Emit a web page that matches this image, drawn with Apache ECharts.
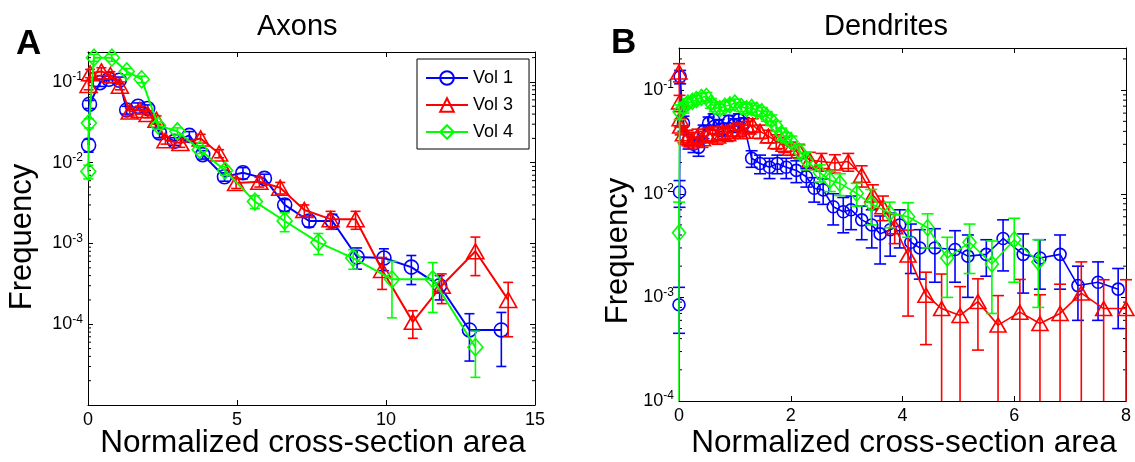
<!DOCTYPE html>
<html><head><meta charset="utf-8">
<script src="https://cdn.jsdelivr.net/npm/echarts@6/dist/echarts.min.js"></script>
<style>html,body{margin:0;padding:0;background:#fff}#c{width:1135px;height:462px}</style>
</head><body><div id="c"></div>
<script>
// ---------- Panel A: Axons ----------
const axVol1X = [0.02, 0.05, 0.4, 0.7, 1.05, 1.3, 1.68, 2.0, 2.4, 2.9, 3.4, 3.85, 4.58, 5.2, 5.92, 6.6, 7.42, 8.2, 9.03, 9.93, 10.85, 11.8, 12.8, 13.87];
const axVol1Y = [0.0165, 0.053, 0.098, 0.108, 0.105, 0.045, 0.050, 0.047, 0.0233, 0.0184, 0.0218, 0.0126, 0.0067, 0.0075, 0.0064, 0.0030, 0.0019, 0.0019, 0.00068, 0.00066, 0.00051, 0.00030, 0.000085, 0.000085];
const axVol1E = [0.003, 0.006, 0.01, 0.01, 0.01, 0.005, 0.005, 0.005, 0.003, 0.002, 0.0025, 0.0015, 0.0008, 0.0012, 0.0008, 0.0005, 0.0003, 0.0004, 0.0002, 0.0002, 0.0002, 0.0001, 0.00005, 0.000055];

const axVol3X = [0.02, 0.07, 0.45, 0.75, 1.07, 1.4, 1.74, 2.0, 2.3, 2.6, 3.1, 3.78, 4.4, 4.97, 5.75, 6.45, 7.26, 8.14, 8.98, 9.87, 10.9, 11.87, 13.0, 14.1];
const axVol3Y = [0.092, 0.128, 0.135, 0.122, 0.090, 0.043, 0.045, 0.040, 0.034, 0.019, 0.0175, 0.0200, 0.0130, 0.0056, 0.0058, 0.0049, 0.0026, 0.0020, 0.0020, 0.00047, 0.000107, 0.00030, 0.00080, 0.00020];
const axVol3E = [0.012, 0.015, 0.015, 0.012, 0.01, 0.005, 0.005, 0.004, 0.004, 0.002, 0.002, 0.0025, 0.0015, 0.0008, 0.0008, 0.0008, 0.0004, 0.0005, 0.0005, 0.0002, 0.00004, 0.00012, 0.0004, 0.00013];

const axVol4X = [0.01, 0.03, 0.2, 0.8, 1.3, 1.8, 2.35, 3.0, 3.75, 4.6, 5.6, 6.6, 7.73, 8.9, 10.2, 11.57, 13.0];
const axVol4Y = [0.0078, 0.031, 0.20, 0.20, 0.135, 0.108, 0.029, 0.0245, 0.0145, 0.008, 0.0033, 0.0019, 0.00103, 0.00066, 0.00036, 0.00036, 0.000052];
const axVol4E = [0.0015, 0.004, 0.02, 0.02, 0.012, 0.01, 0.003, 0.0025, 0.0015, 0.001, 0.0006, 0.0005, 0.0003, 0.00018, 0.00024, 0.00022, 0.00003];

// ---------- Panel B: Dendrites ----------
const deVol1X = [0.00, 0.01, 0.02, 0.08, 0.17, 0.26, 0.35, 0.44, 0.53, 0.62, 0.71, 0.80, 0.89, 0.98, 1.07, 1.16, 1.30, 1.45, 1.62, 1.76, 1.92, 2.10, 2.28, 2.42, 2.58, 2.76, 2.94, 3.08, 3.27, 3.45, 3.60, 3.78, 3.95, 4.15, 4.31, 4.58, 4.94, 5.17, 5.50, 5.80, 6.16, 6.46, 6.82, 7.14, 7.50, 7.86];
const deVol1Y = [0.00085, 0.0104, 0.135, 0.048, 0.033, 0.030, 0.028, 0.040, 0.048, 0.052, 0.045, 0.042, 0.050, 0.046, 0.052, 0.047, 0.022, 0.0196, 0.018, 0.0196, 0.018, 0.0168, 0.0146, 0.0113, 0.0109, 0.0075, 0.0067, 0.0070, 0.0056, 0.0050, 0.0041, 0.0045, 0.0050, 0.0034, 0.0030, 0.0030, 0.0029, 0.0025, 0.0026, 0.0037, 0.0026, 0.0024, 0.0026, 0.0013, 0.0014, 0.0012];
const deVol1E = [0.0004, 0.003, 0.02, 0.008, 0.006, 0.005, 0.005, 0.006, 0.007, 0.007, 0.007, 0.006, 0.007, 0.007, 0.007, 0.007, 0.004, 0.004, 0.004, 0.004, 0.004, 0.004, 0.003, 0.003, 0.003, 0.0025, 0.0025, 0.0025, 0.002, 0.002, 0.002, 0.002, 0.002, 0.0017, 0.0015, 0.0016, 0.0015, 0.0015, 0.001, 0.0019, 0.0015, 0.0012, 0.0014, 0.0007, 0.0008, 0.0007];

const deVol3X = [0.00, 0.01, 0.02, 0.03, 0.08, 0.15, 0.24, 0.33, 0.42, 0.51, 0.60, 0.69, 0.78, 0.87, 0.96, 1.05, 1.14, 1.23, 1.32, 1.45, 1.60, 1.74, 1.88, 2.00, 2.15, 2.34, 2.55, 2.79, 3.03, 3.27, 3.47, 3.65, 3.86, 4.10, 4.42, 4.70, 5.03, 5.35, 5.71, 6.10, 6.46, 6.82, 7.20, 7.60, 8.00];
const deVol3Y = [0.15, 0.077, 0.053, 0.045, 0.038, 0.035, 0.033, 0.036, 0.034, 0.037, 0.038, 0.036, 0.039, 0.038, 0.040, 0.042, 0.040, 0.044, 0.046, 0.040, 0.036, 0.032, 0.030, 0.0275, 0.026, 0.0211, 0.0205, 0.0198, 0.0205, 0.0151, 0.0097, 0.0075, 0.0048, 0.00256, 0.00105, 0.00078, 0.00067, 0.00091, 0.00054, 0.00072, 0.00056, 0.00070, 0.0011, 0.00078, 0.00078];
const deVol3E = [0.03, 0.012, 0.009, 0.008, 0.007, 0.006, 0.006, 0.006, 0.006, 0.006, 0.006, 0.006, 0.006, 0.006, 0.006, 0.006, 0.006, 0.006, 0.007, 0.006, 0.005, 0.005, 0.005, 0.004, 0.004, 0.004, 0.004, 0.004, 0.004, 0.0035, 0.0025, 0.002, 0.0015, 0.0019, 0.0007, 0.0009, 0.0006, 0.0006, 0.0005, 0.00077, 0.0005, 0.00064, 0.0011, 0.0007, 0.0007];

const deVol4X = [0.00, 0.01, 0.08, 0.16, 0.24, 0.31, 0.40, 0.49, 0.57, 0.64, 0.73, 0.82, 0.91, 1.00, 1.12, 1.21, 1.30, 1.39, 1.48, 1.57, 1.65, 1.74, 1.83, 1.92, 2.01, 2.16, 2.28, 2.52, 2.70, 2.88, 3.18, 3.44, 3.77, 4.10, 4.45, 4.80, 5.20, 5.60, 6.00, 6.43];
const deVol4Y = [0.0042, 0.062, 0.068, 0.075, 0.078, 0.081, 0.085, 0.087, 0.075, 0.069, 0.066, 0.070, 0.072, 0.075, 0.069, 0.066, 0.068, 0.064, 0.062, 0.056, 0.0515, 0.045, 0.038, 0.035, 0.032, 0.0255, 0.021, 0.016, 0.0135, 0.0126, 0.0101, 0.0080, 0.0065, 0.0060, 0.0047, 0.0024, 0.0034, 0.0021, 0.0036, 0.0022];
const deVol4E = [0.0041, 0.01, 0.008, 0.008, 0.008, 0.008, 0.008, 0.008, 0.008, 0.007, 0.007, 0.007, 0.007, 0.007, 0.007, 0.007, 0.007, 0.007, 0.006, 0.006, 0.006, 0.005, 0.005, 0.004, 0.004, 0.004, 0.004, 0.003, 0.003, 0.003, 0.0025, 0.003, 0.0018, 0.0022, 0.0017, 0.0014, 0.0017, 0.0014, 0.0022, 0.0014];

// axis limits and ticks
const axXTicks = [0, 5, 10, 15];
const deXTicks = [0, 2, 4, 6, 8];
const axYLim = [1e-5, 0.235];
const deYLim = [1e-4, 0.255];
const seriesNames = ['Vol 1', 'Vol 3', 'Vol 4'];

const FONT = "'Liberation Sans', Arial, Helvetica, sans-serif";
const C1 = '#0000ff', C3 = '#ff0000', C4 = '#00ff00';

function minorValues(lim) {
  const out = [];
  for (let e = Math.floor(Math.log10(lim[0])); e <= Math.ceil(Math.log10(lim[1])); e++) {
    for (let m = 2; m <= 9; m++) {
      const v = m * Math.pow(10, e);
      if (v > lim[0] && v < lim[1]) out.push(v);
    }
  }
  return out;
}

function errSeries(xi, yi, xs, ys, es, color, cap, lim, z) {
  return {
    type: 'custom', xAxisIndex: xi, yAxisIndex: yi, silent: true, z: z, animation: false,
    data: xs.map((x, i) => [x, ys[i] - es[i], ys[i] + es[i]]),
    encode: { x: 0, y: 2 },
    renderItem: function (params, api) {
      const x = api.value(0), lo = api.value(1), hi = api.value(2);
      const loC = lo <= lim[0] ? lim[0] : lo;
      const hiC = hi >= lim[1] ? lim[1] : hi;
      const a = api.coord([x, loC]), b = api.coord([x, hiC]);
      const st = { stroke: color, lineWidth: 1.6 };
      const ch = [{ type: 'line', shape: { x1: a[0], y1: a[1], x2: b[0], y2: b[1] }, style: st }];
      if (lo > lim[0]) ch.push({ type: 'line', shape: { x1: a[0] - cap / 2, y1: a[1], x2: a[0] + cap / 2, y2: a[1] }, style: st });
      if (hi < lim[1]) ch.push({ type: 'line', shape: { x1: b[0] - cap / 2, y1: b[1], x2: b[0] + cap / 2, y2: b[1] }, style: st });
      return { type: 'group', children: ch };
    }
  };
}

function lineSeries(name, xi, yi, xs, ys, color, symbol, size, lw, z) {
  return {
    type: 'line', name: name, xAxisIndex: xi, yAxisIndex: yi, z: z, animation: false,
    data: xs.map((x, i) => [x, ys[i]]),
    symbol: symbol, symbolSize: size, showAllSymbol: true,
    itemStyle: { color: 'rgba(255,255,255,0)', borderColor: color, borderWidth: 1.6 },
    lineStyle: { color: color, width: lw },
    emphasis: { disabled: true }
  };
}

function minorTickSeries(xi, yi, xLim, yLim) {
  return {
    type: 'custom', xAxisIndex: xi, yAxisIndex: yi, silent: true, z: 1, animation: false,
    data: minorValues(yLim).map(v => [xLim[0], v]),
    encode: { x: 0, y: 1 },
    renderItem: function (params, api) {
      const v = api.value(1);
      const l = api.coord([xLim[0], v]), r = api.coord([xLim[1], v]);
      const st = { stroke: '#000', lineWidth: 1 };
      return { type: 'group', children: [
        { type: 'line', shape: { x1: l[0], y1: l[1], x2: l[0] + 3, y2: l[1] }, style: st },
        { type: 'line', shape: { x1: r[0], y1: r[1], x2: r[0] - 3, y2: r[1] }, style: st }
      ] };
    }
  };
}

function makeLogFmt(minExp) {
  return function (v) {
    const lg = Math.log10(v);
    const e = Math.round(lg);
    if (Math.abs(lg - e) > 0.01 || e < minExp) return '';
    return '{b|10}{s|' + e + '}';
  };
}
const rich = {
  b: { fontSize: 18, fontFamily: FONT, color: '#000', lineHeight: 22 },
  s: { fontSize: 12, fontFamily: FONT, color: '#000', lineHeight: 12, verticalAlign: 'top' }
};

function xAx(grid, lim, ticks, pos, show) {
  return {
    type: 'value', gridIndex: grid, position: pos, min: lim[0], max: lim[1], interval: ticks[1] - ticks[0],
    axisLine: { show: true, onZero: false, lineStyle: { color: '#000', width: 1 } },
    axisTick: { show: true, inside: true, length: 5, lineStyle: { color: '#000' } },
    axisLabel: { show: show, fontSize: 18, fontFamily: FONT, color: '#000', margin: 6 },
    splitLine: { show: false }
  };
}
function yAx(grid, lim, pos, fmt) {
  return {
    type: 'log', logBase: 10, gridIndex: grid, position: pos, min: lim[0], max: lim[1],
    axisLine: { show: true, onZero: false, lineStyle: { color: '#000', width: 1 } },
    axisTick: { show: true, inside: true, length: 5, lineStyle: { color: '#000' } },
    axisLabel: fmt ? { show: true, formatter: fmt, rich: rich, margin: 5 } : { show: false },
    splitLine: { show: false }, minorTick: { show: false }
  };
}

const chart = echarts.init(document.getElementById('c'), null, { renderer: 'canvas' });
chart.setOption({
  animation: false,
  backgroundColor: '#fff',
  grid: [
    { left: 88, top: 52, width: 447, height: 353, outerBoundsMode: 'none', containLabel: false },
    { left: 679, top: 48, width: 447, height: 353, outerBoundsMode: 'none', containLabel: false }
  ],
  xAxis: [
    xAx(0, [axXTicks[0], axXTicks[axXTicks.length - 1]], axXTicks, 'bottom', true),
    xAx(0, [axXTicks[0], axXTicks[axXTicks.length - 1]], axXTicks, 'top', false),
    xAx(1, [deXTicks[0], deXTicks[deXTicks.length - 1]], deXTicks, 'bottom', true),
    xAx(1, [deXTicks[0], deXTicks[deXTicks.length - 1]], deXTicks, 'top', false)
  ],
  yAxis: [
    yAx(0, axYLim, 'left', makeLogFmt(-4)),
    yAx(0, axYLim, 'right', null),
    yAx(1, deYLim, 'left', makeLogFmt(-4)),
    yAx(1, deYLim, 'right', null)
  ],
  legend: {
    data: seriesNames, orient: 'vertical', left: 417, top: 59,
    itemWidth: 42, itemHeight: 17, itemGap: 9,
    padding: [10, 16, 8, 8],
    borderColor: '#000', borderWidth: 1, borderRadius: 0, backgroundColor: '#fff',
    textStyle: { fontSize: 18, fontFamily: FONT, color: '#000' },
    selectedMode: false, z: 20
  },
  series: [
    minorTickSeries(0, 0, [axXTicks[0], axXTicks[axXTicks.length - 1]], axYLim),
    minorTickSeries(2, 2, [deXTicks[0], deXTicks[deXTicks.length - 1]], deYLim),
    errSeries(0, 0, axVol1X, axVol1Y, axVol1E, C1, 10, axYLim, 2),
    lineSeries(seriesNames[0], 0, 0, axVol1X, axVol1Y, C1, 'circle', 14, 2, 3),
    errSeries(0, 0, axVol3X, axVol3Y, axVol3E, C3, 10, axYLim, 4),
    lineSeries(seriesNames[1], 0, 0, axVol3X, axVol3Y, C3, 'triangle', [17, 15], 2, 5),
    errSeries(0, 0, axVol4X, axVol4Y, axVol4E, C4, 10, axYLim, 6),
    lineSeries(seriesNames[2], 0, 0, axVol4X, axVol4Y, C4, 'diamond', [15, 17], 2, 7),
    errSeries(2, 2, deVol1X, deVol1Y, deVol1E, C1, 12, deYLim, 2),
    lineSeries('Vol 1 ', 2, 2, deVol1X, deVol1Y, C1, 'circle', 12, 1.6, 3),
    errSeries(2, 2, deVol3X, deVol3Y, deVol3E, C3, 12, deYLim, 4),
    lineSeries('Vol 3 ', 2, 2, deVol3X, deVol3Y, C3, 'triangle', [16, 14], 1.6, 5),
    errSeries(2, 2, deVol4X, deVol4Y, deVol4E, C4, 12, deYLim, 6),
    lineSeries('Vol 4 ', 2, 2, deVol4X, deVol4Y, C4, 'diamond', [13, 16], 1.6, 7)
  ],
  graphic: [
    { type: 'text', x: 257, y: 27, style: { text: 'Axons', font: '29px ' + FONT, fill: '#000', textAlign: 'left', textVerticalAlign: 'middle', align: 'left', verticalAlign: 'middle' } },
    { type: 'text', x: 824, y: 27, style: { text: 'Dendrites', font: '29px ' + FONT, fill: '#000', textAlign: 'left', textVerticalAlign: 'middle', align: 'left', verticalAlign: 'middle' } },
    { type: 'text', x: 16, y: 44, style: { text: 'A', font: 'bold 35px ' + FONT, fill: '#000', textAlign: 'left', textVerticalAlign: 'middle', align: 'left', verticalAlign: 'middle' } },
    { type: 'text', x: 611, y: 43, style: { text: 'B', font: 'bold 35px ' + FONT, fill: '#000', textAlign: 'left', textVerticalAlign: 'middle', align: 'left', verticalAlign: 'middle' } },
    { type: 'text', x: 313, y: 443, style: { text: 'Normalized cross-section area', font: '31.5px ' + FONT, fill: '#000', textAlign: 'center', textVerticalAlign: 'middle', align: 'center', verticalAlign: 'middle' } },
    { type: 'text', x: 904, y: 443, style: { text: 'Normalized cross-section area', font: '31.5px ' + FONT, fill: '#000', textAlign: 'center', textVerticalAlign: 'middle', align: 'center', verticalAlign: 'middle' } },
    { type: 'text', x: 22, y: 237, rotation: Math.PI / 2, style: { text: 'Frequency', font: '31px ' + FONT, fill: '#000', textAlign: 'center', textVerticalAlign: 'middle', align: 'center', verticalAlign: 'middle' } },
    { type: 'text', x: 618, y: 251, rotation: Math.PI / 2, style: { text: 'Frequency', font: '31px ' + FONT, fill: '#000', textAlign: 'center', textVerticalAlign: 'middle', align: 'center', verticalAlign: 'middle' } }
  ]
});
</script></body></html>
